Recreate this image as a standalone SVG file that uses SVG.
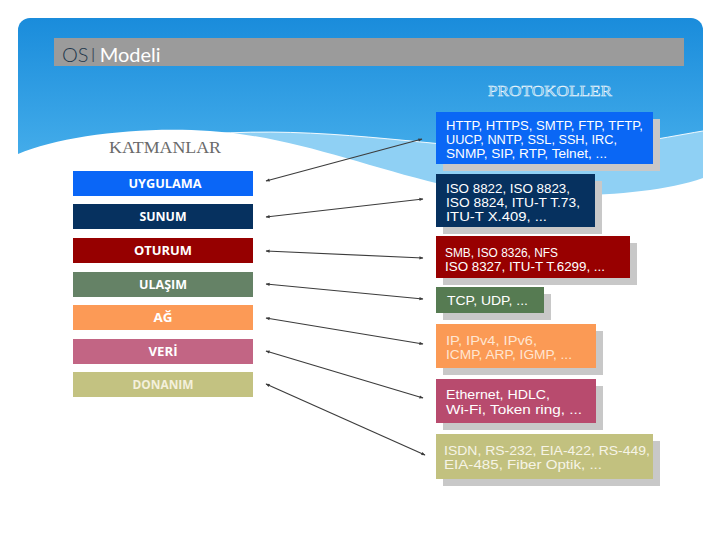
<svg xmlns="http://www.w3.org/2000/svg" width="720" height="540" viewBox="0 0 720 540">
<defs>
<linearGradient id="bg" x1="0" y1="0" x2="0" y2="1">
<stop offset="0" stop-color="#1a8cdb"/>
<stop offset="0.6" stop-color="#3ea8e8"/>
<stop offset="1" stop-color="#5bbcef"/>
</linearGradient>
<marker id="ah" viewBox="0 0 10 10" refX="9" refY="5" markerWidth="5" markerHeight="4" markerUnits="userSpaceOnUse" orient="auto-start-reverse">
<path d="M0,1 L10,5 L0,9 Z" fill="#3a3a3a"/>
</marker>
<style>
.lay{font-family:"Open Sans","DejaVu Sans",sans-serif;font-weight:700;font-size:13px;fill:#ffffff;text-anchor:middle}
.pt{font-family:"Liberation Sans","DejaVu Sans",sans-serif;font-size:12px;fill:#ffffff}
.sh{fill:#c8c8c8}
.conn line{stroke:#3c3c3c;stroke-width:1.2;marker-start:url(#ah);marker-end:url(#ah)}
</style>
</defs>
<rect width="720" height="540" fill="#ffffff"/>
<g id="background">
<rect x="18" y="18" width="685" height="200" rx="12" fill="url(#bg)"/>
<path d="M210,134 C320,126 420,145 520,150 C600,152 660,138 703,131 L703,200 L210,200 Z" fill="#8fd0f4"/>
<path d="M210,134 C320,126 420,145 520,150 C600,152 660,138 703,131" fill="none" stroke="#ffffff" stroke-width="1" opacity="0.9"/>
<path d="M0,162 L18,154 C60,136 140,126 210,131 C290,136 360,165 440,184 C520,200 640,200 703,178 L720,178 L720,540 L0,540 Z" fill="#ffffff"/>
</g>
<g id="title">
<rect x="54" y="38" width="630" height="28" fill="#9b9b9b"/>
<text x="62" y="62" font-family="Lato,'Open Sans',sans-serif" font-size="20" font-weight="300"><tspan fill="#23384c">OS</tspan><tspan fill="#3d4d5c" dx="2">I</tspan><tspan fill="#ffffff" dx="4" font-weight="400">Modeli</tspan></text>
</g>
<text id="protokoller" x="550" y="96" text-anchor="middle" font-family="'Liberation Serif',serif" font-size="15" fill="#5fb6ea" stroke="#f2f8fc" stroke-width="0.5" textLength="124" lengthAdjust="spacingAndGlyphs">PROTOKOLLER</text>
<text id="katmanlar" x="165" y="153" text-anchor="middle" font-family="'Liberation Serif',serif" font-size="16" fill="#6a6a6a" textLength="112" lengthAdjust="spacingAndGlyphs">KATMANLAR</text>
<g id="layer-uygulama"><rect x="73" y="171" width="180" height="25" fill="#0a66f7"/><text class="lay" x="165" y="188" textLength="73" lengthAdjust="spacingAndGlyphs">UYGULAMA</text></g>
<g id="layer-sunum"><rect x="73" y="204" width="180" height="25" fill="#06315f"/><text class="lay" x="163" y="221" textLength="47" lengthAdjust="spacingAndGlyphs">SUNUM</text></g>
<g id="layer-oturum"><rect x="73" y="238" width="180" height="25" fill="#960000"/><text class="lay" x="163" y="255" textLength="58" lengthAdjust="spacingAndGlyphs">OTURUM</text></g>
<g id="layer-ulasim"><rect x="73" y="272" width="180" height="25" fill="#658266"/><text class="lay" x="163" y="289" textLength="48" lengthAdjust="spacingAndGlyphs">ULAŞIM</text></g>
<g id="layer-ag"><rect x="73" y="305" width="180" height="25" fill="#fc9a56"/><text class="lay" x="163" y="322" textLength="19" lengthAdjust="spacingAndGlyphs">AĞ</text></g>
<g id="layer-veri"><rect x="73" y="339" width="180" height="25" fill="#c26584"/><text class="lay" x="163" y="356" textLength="29" lengthAdjust="spacingAndGlyphs">VERİ</text></g>
<g id="layer-donanim"><rect x="73" y="372" width="180" height="25" fill="#c3c281"/><text class="lay" x="163" y="389" style="fill:#f4f0dc" textLength="61" lengthAdjust="spacingAndGlyphs">DONANIM</text></g>
<g id="proto-uygulama">
<rect class="sh" x="443" y="119" width="217" height="52"/>
<rect x="436" y="112" width="217" height="52" fill="#0a67f5"/>
<text class="pt"><tspan x="446" y="130" textLength="197" lengthAdjust="spacingAndGlyphs">HTTP, HTTPS, SMTP, FTP, TFTP,</tspan><tspan x="446" y="144" textLength="171" lengthAdjust="spacingAndGlyphs">UUCP, NNTP, SSL, SSH, IRC,</tspan><tspan x="446" y="158" textLength="161" lengthAdjust="spacingAndGlyphs">SNMP, SIP, RTP, Telnet, ...</tspan></text>
</g>
<g id="proto-sunum">
<rect class="sh" x="443" y="181" width="159" height="53"/>
<rect x="436" y="174" width="159" height="53" fill="#06315f"/>
<text class="pt"><tspan x="446" y="193" textLength="124" lengthAdjust="spacingAndGlyphs">ISO 8822, ISO 8823,</tspan><tspan x="446" y="207" textLength="134" lengthAdjust="spacingAndGlyphs">ISO 8824, ITU-T T.73,</tspan><tspan x="446" y="221" textLength="101" lengthAdjust="spacingAndGlyphs">ITU-T X.409, ...</tspan></text>
</g>
<g id="proto-oturum">
<rect class="sh" x="443" y="243" width="194" height="42"/>
<rect x="436" y="236" width="194" height="42" fill="#980000"/>
<text class="pt"><tspan x="445" y="257" textLength="113" lengthAdjust="spacingAndGlyphs">SMB, ISO 8326, NFS</tspan><tspan x="445" y="271" textLength="160" lengthAdjust="spacingAndGlyphs">ISO 8327, ITU-T T.6299, ...</tspan></text>
</g>
<g id="proto-ulasim">
<rect class="sh" x="443" y="294" width="108" height="26"/>
<rect x="436" y="287" width="108" height="26" fill="#567b52"/>
<text class="pt" x="447" y="305" textLength="81" lengthAdjust="spacingAndGlyphs">TCP, UDP, ...</text>
</g>
<g id="proto-ag">
<rect class="sh" x="443" y="331" width="160" height="44"/>
<rect x="436" y="324" width="160" height="44" fill="#fb9a55"/>
<text class="pt" style="fill:#ffe6d2"><tspan x="446" y="345" textLength="91" lengthAdjust="spacingAndGlyphs">IP, IPv4, IPv6,</tspan><tspan x="446" y="359" textLength="126" lengthAdjust="spacingAndGlyphs">ICMP, ARP, IGMP, ...</tspan></text>
</g>
<g id="proto-veri">
<rect class="sh" x="443" y="386" width="160" height="44"/>
<rect x="436" y="379" width="160" height="44" fill="#b84b6e"/>
<text class="pt"><tspan x="446" y="399" textLength="104" lengthAdjust="spacingAndGlyphs">Ethernet, HDLC,</tspan><tspan x="446" y="414" textLength="136" lengthAdjust="spacingAndGlyphs">Wi-Fi, Token ring, ...</tspan></text>
</g>
<g id="proto-donanim">
<rect class="sh" x="443" y="441" width="217" height="45"/>
<rect x="436" y="434" width="217" height="45" fill="#c2c17f"/>
<text class="pt" style="fill:#f6f4e6"><tspan x="444" y="455" textLength="206" lengthAdjust="spacingAndGlyphs">ISDN, RS-232, EIA-422, RS-449,</tspan><tspan x="444" y="469" textLength="158" lengthAdjust="spacingAndGlyphs">EIA-485, Fiber Optik, ...</tspan></text>
</g>
<g id="connectors" class="conn">
<line x1="266" y1="181" x2="422" y2="139"/>
<line x1="266" y1="217" x2="423" y2="199"/>
<line x1="266" y1="251" x2="423" y2="258"/>
<line x1="266" y1="284" x2="423" y2="299"/>
<line x1="266" y1="318" x2="423" y2="344"/>
<line x1="266" y1="351" x2="423" y2="398"/>
<line x1="266" y1="384" x2="425" y2="455"/>
</g>
</svg>
